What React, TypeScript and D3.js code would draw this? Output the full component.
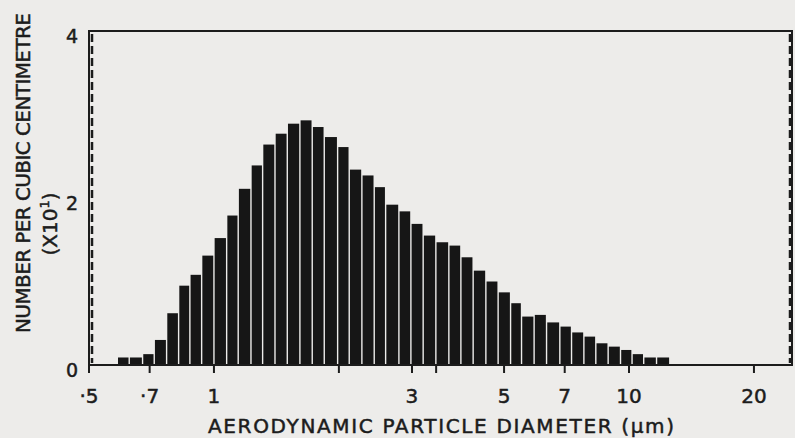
import * as d3 from "d3";
import { useEffect, useRef } from "react";

// bin edges (aerodynamic diameter, µm)
const binEdges = [
  0.585, 0.625, 0.673, 0.718, 0.769, 0.822, 0.875, 0.934, 1.0, 1.073, 1.144,
  1.228, 1.31, 1.403, 1.502, 1.611, 1.725, 1.844, 1.986, 2.118, 2.272, 2.433,
  2.592, 2.79, 2.982, 3.192, 3.425, 3.681, 3.935, 4.212, 4.52, 4.838, 5.184,
  5.509, 5.907, 6.329, 6.813, 7.27, 7.785, 8.318, 8.907, 9.54, 10.17, 10.85,
  11.65, 12.54,
];

// number per cubic centimetre (x10^1), one per bin
const counts = [
  0.09, 0.09, 0.13, 0.3, 0.62, 0.95, 1.08, 1.31, 1.52, 1.79, 2.11, 2.39, 2.64,
  2.77, 2.89, 2.93, 2.85, 2.73, 2.61, 2.34, 2.27, 2.13, 1.92, 1.84, 1.69, 1.55,
  1.47, 1.43, 1.29, 1.13, 1.0, 0.87, 0.74, 0.58, 0.6, 0.51, 0.46, 0.39, 0.34,
  0.26, 0.22, 0.18, 0.13, 0.09, 0.09,
];

const xTicks = [0.5, 0.7, 1, 2, 3, 3.43, 5, 7, 10, 20];
const xTickLabels = ["·5", "·7", "1", "", "3", "", "5", "7", "10", "20"];
const yTicks = [0, 2, 4];

const App = () => {
  const ref = useRef<SVGSVGElement>(null);

  useEffect(() => {
    const svg = d3.select(ref.current);
    svg.selectAll("*").remove();

    const width = 795;
    const height = 438;
    const ink = "#1c1c1c";
    const font = "'DejaVu Sans', sans-serif";

    svg.attr("width", width).attr("height", height);

    svg
      .append("rect")
      .attr("width", width)
      .attr("height", height)
      .attr("fill", "#edecea");

    const x = d3.scaleLog().domain([0.5, 24.7]).range([89, 792]);
    const y = d3.scaleLinear().domain([0, 4]).range([365, 31]);

    // bars
    const bins = counts.map((v, i) => ({ lo: binEdges[i], hi: binEdges[i + 1], v }));
    svg
      .append("g")
      .selectAll("rect")
      .data(bins)
      .join("rect")
      .attr("x", (d) => x(d.lo) + 0.7)
      .attr("width", (d) => x(d.hi) - x(d.lo) - 1.4)
      .attr("y", (d) => y(d.v))
      .attr("height", (d) => y(0) - y(d.v))
      .attr("fill", "#161616");

    // frame
    const [x0, x1] = x.range();
    const [y0, y1] = y.range();
    svg
      .append("path")
      .attr("d", `M${x0},${y0}V${y1}H${x1}V${y0}Z`)
      .attr("fill", "none")
      .attr("stroke", ink)
      .attr("stroke-width", 2);

    // dashed lines just inside the left and right edges
    [x0 + 3, x1 - 2].forEach((px) => {
      svg
        .append("line")
        .attr("x1", px)
        .attr("x2", px)
        .attr("y1", y1 + 3)
        .attr("y2", y0 - 2)
        .attr("stroke", ink)
        .attr("stroke-width", 2.5)
        .attr("stroke-dasharray", "8,4");
    });

    const txt = (sel) =>
      sel
        .attr("font-family", font)
        .attr("fill", ink)
        .attr("stroke", ink)
        .attr("stroke-width", 0.5);

    // x ticks
    const xAxis = svg.append("g");
    xAxis
      .selectAll("line")
      .data(xTicks)
      .join("line")
      .attr("x1", (d) => x(d))
      .attr("x2", (d) => x(d))
      .attr("y1", y0)
      .attr("y2", y0 + 8)
      .attr("stroke", ink)
      .attr("stroke-width", 2);
    xAxis
      .selectAll("text")
      .data(xTicks)
      .join("text")
      .attr("x", (d) => x(d))
      .attr("y", 403)
      .attr("text-anchor", "middle")
      .attr("font-size", 20)
      .call(txt)
      .text((d, i) => xTickLabels[i]);

    // y labels
    svg
      .append("g")
      .selectAll("text")
      .data(yTicks)
      .join("text")
      .attr("x", 78)
      .attr("y", (d) => y(d) + 12)
      .attr("text-anchor", "end")
      .attr("font-size", 19)
      .call(txt)
      .text((d) => d);

    // axis titles
    svg
      .append("text")
      .attr("x", 441)
      .attr("y", 433)
      .attr("text-anchor", "middle")
      .attr("font-size", 20)
      .attr("textLength", 466)
      .attr("lengthAdjust", "spacing")
      .call(txt)
      .text("AERODYNAMIC  PARTICLE  DIAMETER (µm)");

    svg
      .append("text")
      .attr("transform", "translate(30,173) rotate(-90)")
      .attr("text-anchor", "middle")
      .attr("font-size", 20)
      .attr("textLength", 320)
      .attr("lengthAdjust", "spacing")
      .call(txt)
      .text("NUMBER PER CUBIC CENTIMETRE");

    const sub = svg
      .append("text")
      .attr("transform", "translate(57,224) rotate(-90)")
      .attr("text-anchor", "middle")
      .attr("font-size", 20)
      .call(txt);
    sub.append("tspan").text("(X10");
    sub.append("tspan").attr("font-size", 13).attr("dy", -8).text("1");
    sub.append("tspan").attr("dy", 8).text(")");
  }, []);

  return (
    <svg
      ref={ref}
      style={{ position: "absolute", left: 0, top: 0, display: "block" }}
    ></svg>
  );
};

export default App;
